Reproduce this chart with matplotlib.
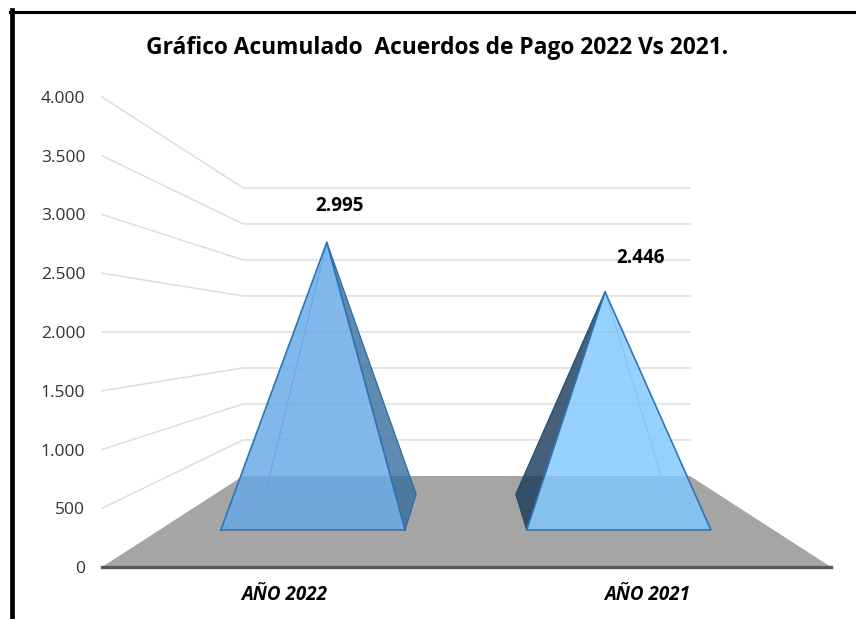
"""Gráfico acumulado de acuerdos de pago, pirámides 3D en perspectiva."""
import matplotlib
matplotlib.use('Agg')
import matplotlib.pyplot as plt
from matplotlib.lines import Line2D
from matplotlib.patches import Polygon

plt.rcParams['font.family'] = ['Open Sans', 'DejaVu Sans']

title = 'Gráfico Acumulado  Acuerdos de Pago 2022 Vs 2021.'
categories = ['AÑO 2022', 'AÑO 2021']
values = [2995, 2446]
value_labels = ['2.995', '2.446']
tick_values = [0, 500, 1000, 1500, 2000, 2500, 3000, 3500, 4000]
tick_labels = ['0', '500', '1.000', '1.500', '2.000', '2.500', '3.000', '3.500', '4.000']

# perspective of the chart box
DEPTH_SHRINK = 0.387
DEPTH_RISE = 774.5
# pyramid footprint, as fractions of the floor width and depth
PYR_HALF = 0.15
PYR_CENTERS = [0.25, 0.748]
DEPTH_FRONT, DEPTH_BACK = 0.407, 0.80


def project(u, depth, value=0):
    """Map floor position u, depth (0 front, 1 back) and a value to the front plane."""
    s = 1 - DEPTH_SHRINK * depth
    return (1 - s) / 2 + u * s, depth * DEPTH_RISE + value * s


def face(ax, pts, color, alpha, z, edge='#2E75B6', lw=1.2):
    ax.add_patch(Polygon(pts, closed=True, facecolor=color, alpha=alpha, edgecolor='none',
                         zorder=z, clip_on=False))
    xs, ys = zip(*(pts + pts[:1]))
    ax.plot(xs, ys, color=edge, lw=lw, zorder=z + 0.1, clip_on=False, solid_joinstyle='round')


fig = plt.figure(figsize=(8.56, 6.19), dpi=100)
ax = fig.add_axes([102 / 856, 1 - 567 / 619, 729 / 856, 470 / 619])
ax.set_xlim(0, 1)
ax.set_ylim(0, 4000)

# walls: side lines run back from the tick, then across the back wall
for v in tick_values[1:]:
    x0, y0 = project(0, 0, v)
    x1, y1 = project(0, 1, v)
    x2, y2 = project(1, 1, v)
    ax.plot([x0, x1, x2], [y0, y1, y2], color='#DDDDDD', lw=1.1, zorder=1, clip_on=False)

# floor
floor = [project(0, 0), project(1, 0), project(1, 1), project(0, 1)]
ax.add_patch(Polygon(floor, closed=True, facecolor='#A5A5A5', edgecolor='none', zorder=2))

styles = [
    {'front': '#65A9E8', 'side': '#386E9C', 'back': '#4F96D8', 'side_u': 1},
    {'front': '#80C8FF', 'side': '#183859', 'back': '#6DB6F5', 'side_u': 0},
]
label_offsets = [(13, 36), (35, 34)]

for cx, val, txt, st, off in zip(PYR_CENTERS, values, value_labels, styles, label_offsets):
    left, right = cx - PYR_HALF, cx + PYR_HALF
    fl = project(left, DEPTH_FRONT)
    fr = project(right, DEPTH_FRONT)
    bl = project(left, DEPTH_BACK)
    br = project(right, DEPTH_BACK)
    apex = project(cx, (DEPTH_FRONT + DEPTH_BACK) / 2, val)

    # hidden back edges show through the front face
    hidden = bl if st['side_u'] == 1 else br
    corner = fl if st['side_u'] == 1 else fr
    far = br if st['side_u'] == 1 else bl
    ax.plot(*zip(apex, hidden), color=st['back'], lw=1.0, alpha=0.8, zorder=3, clip_on=False)
    ax.plot(*zip(corner, hidden, far), color=st['back'], lw=1.0, alpha=0.8, zorder=3, clip_on=False)

    # dark side face, then the front face on top of it
    if st['side_u'] == 1:
        face(ax, [fr, br, apex], st['side'], 0.8, 4, edge='#2F6C9F', lw=0.9)
    else:
        face(ax, [fl, bl, apex], st['side'], 0.8, 4, edge='#24506F', lw=0.9)
    face(ax, [fl, fr, apex], st['front'], 0.82, 5)

    ax.annotate(txt, xy=apex, xytext=off, textcoords='offset pixels', ha='center',
                va='center', fontsize=13.5, fontweight='bold', color='black', zorder=6)

# axis
for side in ['top', 'right', 'left']:
    ax.spines[side].set_visible(False)
ax.spines['bottom'].set_color('#595959')
ax.spines['bottom'].set_linewidth(2.4)
ax.spines['bottom'].set_zorder(7)
ax.set_yticks(tick_values)
ax.set_yticklabels(tick_labels, fontsize=12.5, color='#333333')
ax.set_xticks(PYR_CENTERS)
ax.set_xticklabels(categories, fontsize=13.5, fontweight='bold', fontstyle='italic', color='black')
ax.tick_params(axis='y', length=0, pad=12)
ax.tick_params(axis='x', length=0, pad=13)

fig.text(437 / 856, 1 - 48 / 619, title, ha='center', va='center', fontsize=16.4,
         fontweight='bold', color='black')

# black frame, only top and left sides are in the crop
fig.add_artist(Line2D([12 / 856, 12 / 856], [0, 1 - 10 / 619], color='black', lw=3.4))
fig.add_artist(Line2D([10 / 856, 1], [1 - 11.5 / 619, 1 - 11.5 / 619], color='black', lw=2.2))

fig.savefig('out.png', dpi=100)
